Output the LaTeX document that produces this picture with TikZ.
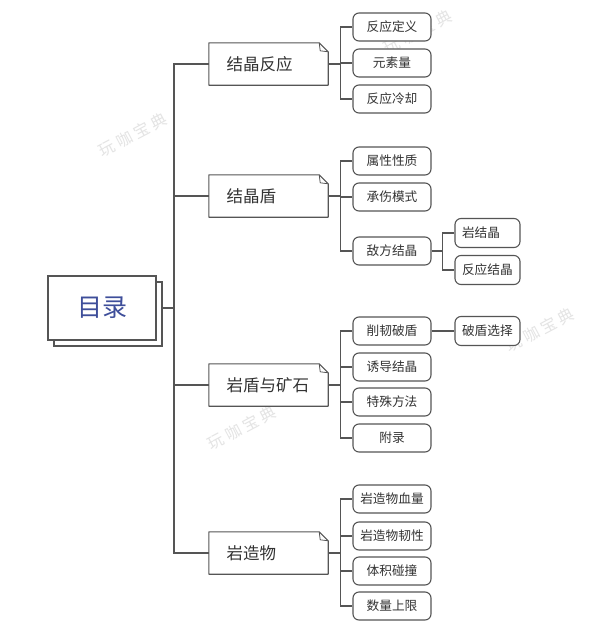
\documentclass[tikz,border=0pt]{standalone}
\usepackage{fontspec}
\setmainfont{Noto Sans CJK SC}
\usetikzlibrary{calc,shadows}

\definecolor{lnclr}{HTML}{555555}
\definecolor{txtclr}{HTML}{333333}
\definecolor{rootclr}{HTML}{3E4E9A}
\definecolor{wmclr}{HTML}{E4E4E4}

\tikzset{
  rootbox/.style={draw=lnclr, line width=1.1pt, fill=white, minimum width=108pt, minimum height=64pt,
    font=\fontsize{25}{25}\selectfont, text=rootclr,
    copy shadow={shadow xshift=6pt, shadow yshift=-6pt, draw=lnclr, line width=1.1pt, fill=white}},
  topicbox/.style={fill=white, minimum height=42pt, text width=84pt, inner xsep=17.5pt, align=left,
    font=\fontsize{16.5}{18}\selectfont, text=txtclr},
  subbox/.style={draw=lnclr, line width=1.1pt, rounded corners=6pt, fill=white, minimum width=78pt,
    minimum height=28pt, inner sep=0pt, font=\fontsize{12.7}{14}\selectfont, text=txtclr},
  leafbox/.style={subbox, minimum width=0pt, minimum height=29pt, text width=51pt, inner xsep=7pt, align=left},
  link/.style={draw=lnclr, line width=1.1pt},
  wmark/.style={text=wmclr, rotate=28, inner sep=0pt, font=\fontsize{16}{16}\selectfont}
}

\begin{document}
\begin{tikzpicture}[x=1pt,y=-1pt]
\useasboundingbox[fill=white] (0,0) rectangle (596,630);

%% watermark
\node[wmark] (wm1) at (133,135) {玩 咖 宝 典};
\node[wmark] (wm2) at (418,32) {玩 咖 宝 典};
\node[wmark] (wm3) at (242,428) {玩 咖 宝 典};
\node[wmark] (wm4) at (540,330) {玩 咖 宝 典};

\node[rootbox] (root) at (102,308) {目录};
\coordinate (trunk) at (174,308);

\node[topicbox] (k1) at (268.5,64) {结晶反应};
\node[topicbox] (k2) at (268.5,196) {结晶盾};
\node[topicbox] (k3) at (268.5,385) {岩盾与矿石};
\node[topicbox] (k4) at (268.5,553) {岩造物};

%% folded corner boxes
\foreach \t in {k1,k2,k3,k4} {
  \draw[lnclr, line width=1.1pt, line join=round] (\t.north west) -- ($(\t.north east)+(-9,0)$)
    -- ($(\t.north east)+(0,9)$) -- (\t.south east) -- (\t.south west) -- cycle;
  \draw[lnclr, line width=0.8pt] ($(\t.north east)+(-9,0)$) -- ($(\t.north east)+(-8,8)$) -- ($(\t.north east)+(0,9)$);
}

\node[subbox] (c11) at (392,27) {反应定义};
\node[subbox] (c12) at (392,63) {元素量};
\node[subbox] (c13) at (392,99) {反应冷却};

\node[subbox] (c21) at (392,161) {属性性质};
\node[subbox] (c22) at (392,197) {承伤模式};
\node[subbox] (c23) at (392,251) {敌方结晶};
\node[leafbox] (d1) at (487.5,233) {岩结晶};
\node[leafbox] (d2) at (487.5,270) {反应结晶};

\node[subbox] (c31) at (392,331) {削韧破盾};
\node[subbox] (c32) at (392,367) {诱导结晶};
\node[subbox] (c33) at (392,402) {特殊方法};
\node[subbox] (c34) at (392,438) {附录};
\node[leafbox] (d3) at (487.5,331) {破盾选择};

\node[subbox] (c41) at (392,499) {岩造物血量};
\node[subbox] (c42) at (392,536) {岩造物韧性};
\node[subbox] (c43) at (392,571) {体积碰撞};
\node[subbox] (c44) at (392,606) {数量上限};

%% connectors
\draw[link] ([xshift=6pt]root.east) -- (trunk);
\foreach \t in {k1,k2,k3,k4}
  \draw[link] (trunk) |- (\t.west);

\draw[link] (k1.east) -- ++(12,0) coordinate (b1);
\foreach \c in {c11,c12,c13}
  \draw[link] (b1) |- (\c.west);
\draw[link] (k2.east) -- ++(12,0) coordinate (b2);
\foreach \c in {c21,c22,c23}
  \draw[link] (b2) |- (\c.west);
\draw[link] (k3.east) -- ++(12,0) coordinate (b3);
\foreach \c in {c31,c32,c33,c34}
  \draw[link] (b3) |- (\c.west);
\draw[link] (k4.east) -- ++(12,0) coordinate (b4);
\foreach \c in {c41,c42,c43,c44}
  \draw[link] (b4) |- (\c.west);

\draw[link] (c23.east) -- ++(11,0) coordinate (b5);
\foreach \d in {d1,d2}
  \draw[link] (b5) |- (\d.west);
\draw[link] (c31.east) -- (d3.west);

\end{tikzpicture}
\end{document}
